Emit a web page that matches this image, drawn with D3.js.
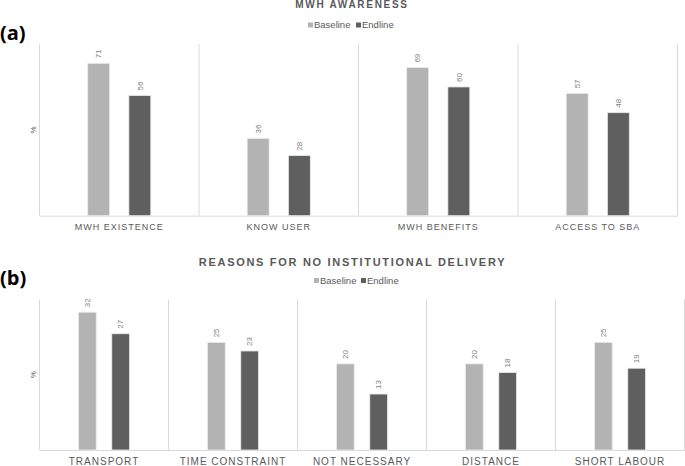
<!DOCTYPE html>
<html>
<head>
<meta charset="utf-8">
<script src="https://cdn.jsdelivr.net/npm/d3@7"></script>
<style>
  body { margin: 0; background: #fff; }
  svg { display: block; font-family: "Liberation Sans", Arial, sans-serif; }
</style>
</head>
<body>
<svg id="chart" width="685" height="466"></svg>
<script>
// Data
var series = ["Baseline", "Endline"];
var colors = ["#b3b3b3", "#5f5f5f"];

var catsA = ["MWH EXISTENCE", "KNOW USER", "MWH BENEFITS", "ACCESS TO SBA"];
var baseA = [71, 36, 69, 57];
var endA = [56, 28, 60, 48];

var catsB = ["TRANSPORT", "TIME CONSTRAINT", "NOT NECESSARY", "DISTANCE", "SHORT LABOUR"];
var baseB = [32, 25, 20, 20, 25];
var endB = [27, 23, 13, 18, 19];

var svg = d3.select("#chart");

// Draw one panel of grouped bars.
function drawPanel(opt) {
    var g = svg.append("g");
    var rows = opt.cats.map(function (c, i) {
        return { cat: c, vals: [opt.base[i], opt.end[i]] };
    });

    var x = d3.scaleBand().domain(opt.cats).range([opt.left, opt.right]).padding(0);
    var x1 = d3.scaleBand().domain(series).range([0, x.bandwidth()])
        .paddingInner(0.467).paddingOuter(1.17);
    var y = d3.scaleLinear().domain([0, opt.max]).range([opt.bottom, opt.top]);

    // Vertical separators between categories
    var edges = opt.cats.map(function (c) { return x(c); }).concat([opt.right]);
    g.selectAll(".sep").data(edges).enter().append("line")
        .attr("x1", function (d) { return d; })
        .attr("x2", function (d) { return d; })
        .attr("y1", opt.top).attr("y2", opt.bottom)
        .attr("stroke", "#d9d9d9").attr("stroke-width", 1);

    // Bottom axis
    var ax = g.append("g")
        .attr("transform", "translate(0," + opt.bottom + ")")
        .call(d3.axisBottom(x).tickSize(0).tickPadding(opt.labelPad));
    ax.select(".domain").attr("stroke", "#d9d9d9");
    ax.selectAll("text")
        .attr("fill", "#595959")
        .style("font-size", opt.labelSize + "px")
        .style("letter-spacing", opt.labelSpacing + "px")
        .style("font-family", "Liberation Sans, Arial, sans-serif");

    var grp = g.selectAll(".grp").data(rows).enter().append("g")
        .attr("transform", function (d) { return "translate(" + x(d.cat) + ",0)"; });

    grp.selectAll("rect").data(function (d) {
        return d.vals.map(function (v, i) { return { s: series[i], v: v, i: i }; });
    }).enter().append("rect")
        .attr("x", function (d) { return x1(d.s); })
        .attr("width", x1.bandwidth())
        .attr("y", function (d) { return y(d.v); })
        .attr("height", function (d) { return opt.bottom - y(d.v); })
        .attr("fill", function (d) { return colors[d.i]; })
        .attr("stroke", "#ececec")
        .attr("stroke-width", 0.8);

    // Rotated value labels above bars
    grp.selectAll(".val").data(function (d) {
        return d.vals.map(function (v, i) { return { s: series[i], v: v }; });
    }).enter().append("text")
        .attr("transform", function (d) {
            return "translate(" + (x1(d.s) + x1.bandwidth() / 2) + "," + (y(d.v) - 5) + ") rotate(-90)";
        })
        .attr("dy", "0.35em")
        .attr("fill", "#7f7f7f")
        .style("font-size", "8px")
        .text(function (d) { return d.v; });

    // Y label
    g.append("text")
        .attr("transform", "translate(33," + ((opt.top + opt.bottom) / 2) + ") rotate(-90)")
        .attr("text-anchor", "middle")
        .attr("dy", "0.35em")
        .attr("fill", "#595959")
        .style("font-size", "8px")
        .text("%");

    // Title
    g.append("text")
        .attr("x", opt.cx).attr("y", opt.titleY)
        .attr("text-anchor", "middle")
        .attr("dy", "0.35em")
        .attr("fill", "#595959")
        .style("font-size", opt.titleSize + "px")
        .style("font-weight", "bold")
        .style("letter-spacing", "1.7px")
        .text(opt.title);

    // Legend
    var lg = g.append("g");
    series.forEach(function (s, i) {
        var lx = opt.legendX[i];
        lg.append("rect")
            .attr("x", lx).attr("y", opt.legendY - 2.5)
            .attr("width", 5).attr("height", 5)
            .attr("fill", colors[i]);
        lg.append("text")
            .attr("x", lx + 6).attr("y", opt.legendY)
            .attr("dy", "0.35em")
            .attr("fill", "#595959")
            .style("font-size", "9.5px")
            .text(s);
    });

    // Panel tag
    svg.append("text")
        .attr("x", 0).attr("y", opt.tagY)
        .attr("fill", "#000")
        .style("font-size", "20px")
        .style("font-weight", "bold")
        .style("font-family", "Open Sans, Liberation Sans, sans-serif")
        .text(opt.tag);
}

drawPanel({
    cats: catsA, base: baseA, end: endA, max: 80,
    left: 39.5, right: 677.5, top: 44, bottom: 215.7,
    labelSize: 9, labelSpacing: 1, labelPad: 8,
    title: "MWH AWARENESS", titleSize: 10, titleY: 4, cx: 352,
    legendX: [308, 356], legendY: 25,
    tag: "(a)", tagY: 40
});

drawPanel({
    cats: catsB, base: baseB, end: endB, max: 35,
    left: 39.5, right: 684.5, top: 299.3, bottom: 450,
    labelSize: 10, labelSpacing: 1, labelPad: 8,
    title: "REASONS FOR NO INSTITUTIONAL DELIVERY", titleSize: 11, titleY: 262, cx: 352.5,
    legendX: [314, 361], legendY: 280.5,
    tag: "(b)", tagY: 285
});
</script>
</body>
</html>
